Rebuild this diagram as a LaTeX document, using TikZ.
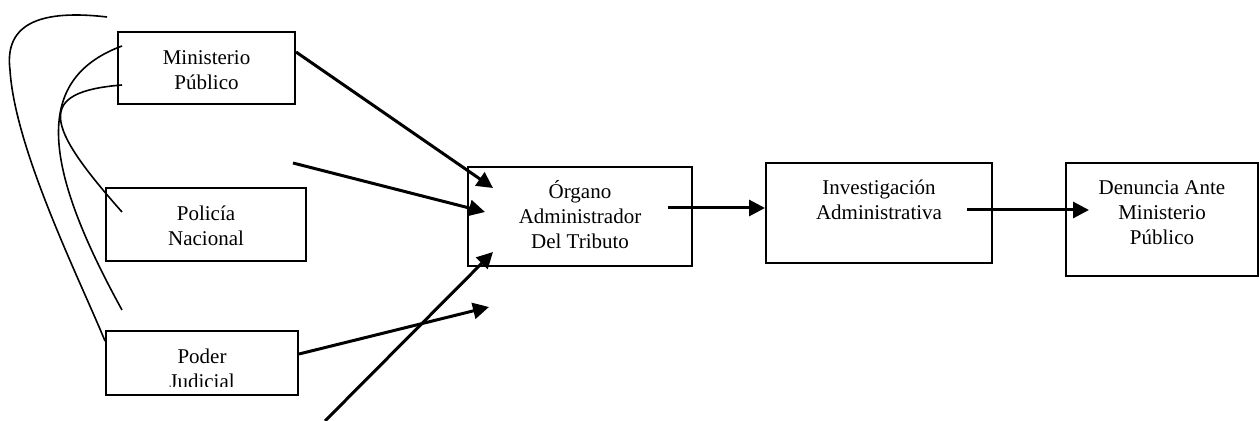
\documentclass[tikz,border=0pt]{standalone}
\usepackage{fontspec}
\setmainfont{Liberation Serif}
\usetikzlibrary{arrows.meta}

\begin{document}
\begin{tikzpicture}[x=0.5pt,y=-0.5pt,
  box/.style={draw,line width=1pt,inner sep=0pt},
  txt/.style={align=center,inner sep=0pt,font=\fontsize{10.5}{12.4}\selectfont},
  arr/.style={line width=1.5pt,-{Triangle[length=8pt,width=8pt]}},
  curve/.style={line width=0.8pt}]
\useasboundingbox (0,0) rectangle (1259,421);

\node[box,minimum width=88.5pt,minimum height=36pt] (minpub) at (206.5,68) {};
\node[box,minimum width=100pt,minimum height=36.5pt] (policia) at (206,224.5) {};
\node[box,minimum width=96pt,minimum height=32pt] (podjud) at (202,363) {};
\node[box,minimum width=112pt,minimum height=49.5pt] (organo) at (580,216.5) {};
\node[box,minimum width=113pt,minimum height=50pt] (invadm) at (879,213) {};
\node[box,minimum width=96pt,minimum height=56.5pt] (denuncia) at (1162,219.5) {};

% base of a node is its last line
\node[txt,anchor=base] (minpubT) at ([yshift=-29.4pt]minpub.north) {Ministerio\\Público};
\node[txt,anchor=base] (policiaT) at ([yshift=-29.4pt]policia.north) {Policía\\Nacional};
\begin{scope}
\clip (podjud.north west) rectangle ([yshift=4.5pt]podjud.south east);
\node[txt,anchor=base] (podjudT) at ([yshift=-29.4pt]podjud.north) {Poder\\Judicial};
\end{scope}
\node[txt,anchor=base] (organoT) at ([yshift=-41.3pt]organo.north) {Órgano\\Administrador\\Del Tributo};
\node[txt,anchor=base] (invadmT) at ([yshift=-28.9pt]invadm.north) {Investigación\\Administrativa};
\node[txt,anchor=base] (denunciaT) at ([yshift=-41.3pt]denuncia.north) {Denuncia Ante\\Ministerio\\Público};

% free ends
\coordinate (inA) at (493,188);
\coordinate (inB) at (485,212);
\coordinate (inC) at (493,252);
\coordinate (inD) at (489,307);
\coordinate (freeB) at (293,163);
\coordinate (freeC) at (325,421);
\coordinate (topend) at (107,17);
\coordinate (midend) at (122,310);

\draw[arr] ([yshift=8pt]minpub.east) -- (inA);
\draw[arr] (freeB) -- (inB);
\draw[arr] ([yshift=4.5pt]podjud.east) -- (inD);
\draw[arr] (freeC) -- (inC);
\draw[arr] ([xshift=-12.5pt,yshift=4.25pt]organo.east) -- ([yshift=2.5pt]invadm.west);
\draw[arr] ([xshift=-13pt,yshift=1.5pt]invadm.east) -- ([xshift=12pt,yshift=4.75pt]denuncia.west);

% loops on the left
\draw[curve] (topend) .. controls (30,8) and (5,30) .. (10,70)
  .. controls (15,150) and (80,280) .. ([yshift=-5.5pt]podjud.north west);
\draw[curve] ([xshift=2.5pt,yshift=-7.5pt]minpub.north west) .. controls (30,80) and (45,170) .. (midend);
\draw[curve] ([xshift=2.5pt,yshift=-27pt]minpub.north west) .. controls (35,92) and (45,125) .. ([xshift=8.5pt,yshift=-12.5pt]policia.north west);
\end{tikzpicture}
\end{document}
